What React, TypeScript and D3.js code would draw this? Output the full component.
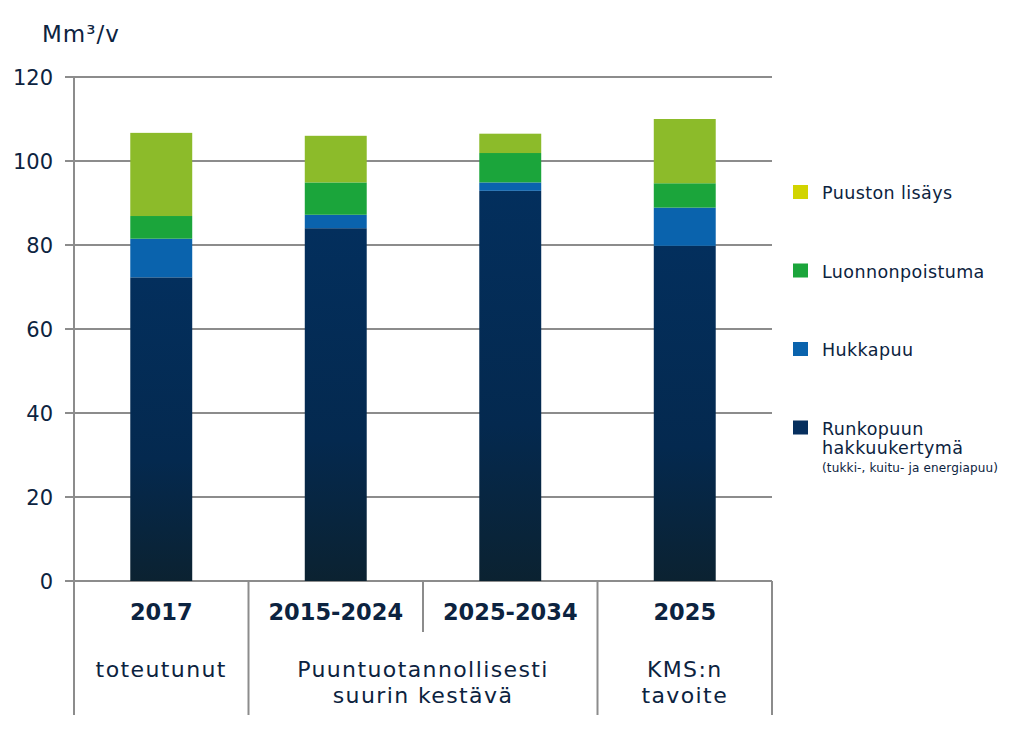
import React from "react";
import * as d3 from "d3";

const categories = ["2017", "2015-2024", "2025-2034", "2025"];
const runkopuu = [72.3, 84.0, 92.9, 79.8];
const hukkapuu = [9.2, 3.2, 2.0, 9.1];
const luonnonpoistuma = [5.4, 7.7, 7.0, 5.8];
const puustonLisays = [19.8, 11.1, 4.6, 15.3];
const yTicks = [0, 20, 40, 60, 80, 100, 120];
const seriesKeys = ["runko", "hukka", "luonto", "lisays"];
const seriesColors = ["url(#navyGrad)", "#0a63ad", "#1ba53b", "#8cbb2a"];
const legendItems = [
  { label: ["Puuston lisäys"], color: "#d2d400" },
  { label: ["Luonnonpoistuma"], color: "#1ba53b" },
  { label: ["Hukkapuu"], color: "#0a63ad" },
  { label: ["Runkopuun", "hakkuukertymä"], sub: "(tukki-, kuitu- ja energiapuu)", color: "#062f5e" },
];

const W = 1024, H = 731;
const font = "'DejaVu Sans', sans-serif";
const textColor = "#0c2340";
const grid = "#8c8c8c";

export default function App() {
  const rows = categories.map((c, i) => ({
    cat: c, runko: runkopuu[i], hukka: hukkapuu[i], luonto: luonnonpoistuma[i], lisays: puustonLisays[i],
  }));
  const stack = d3.stack<any>().keys(seriesKeys)(rows);
  const x = d3.scaleBand().domain(categories).range([74, 772]).padding(0);
  const y = d3.scaleLinear().domain([0, 120]).range([581, 77]);
  const barW = x.bandwidth() * 0.355;
  const cx = (c: string) => (x(c) as number) + x.bandwidth() / 2;
  const sub = { fontFamily: font, fontSize: 22, fill: textColor, letterSpacing: 1.4, textAnchor: "middle" as const };

  return (
    <svg width={W} height={H} style={{ position: "absolute", left: 0, top: 0, background: "#fff" }}>
      <defs>
        <linearGradient id="navyGrad" x1="0" y1="0" x2="0" y2="1" gradientUnits="objectBoundingBox">
          <stop offset="0" stopColor="#032f5d" />
          <stop offset="0.6" stopColor="#04294f" />
          <stop offset="1" stopColor="#0b2231" />
        </linearGradient>
      </defs>
      <rect width={W} height={H} fill="#fff" />
      <text x={42} y={42} fontFamily={font} fontSize={23} fill={textColor} letterSpacing={1}>
        Mm³/v
      </text>
      {yTicks.map((t) => (
        <g key={t}>
          <line x1={65} x2={772} y1={y(t)} y2={y(t)} stroke={grid} strokeWidth={2} />
          <text x={53} y={y(t)} dy="0.36em" textAnchor="end" fontFamily={font} fontSize={21} fill={textColor}>
            {t}
          </text>
        </g>
      ))}
      <line x1={74} x2={74} y1={77} y2={715} stroke={grid} strokeWidth={2} />
      {stack.map((s, si) => (
        <g key={s.key}>
          {s.map((d, i) => (
            <rect
              key={i}
              x={cx(categories[i]) - barW / 2}
              y={y(d[1])}
              width={barW}
              height={y(d[0]) - y(d[1])}
              fill={seriesColors[si]}
            />
          ))}
        </g>
      ))}
      {/* bottom table */}
      {categories.map((c, i) => (
        <line key={"v" + i} x1={(x(c) as number) + x.bandwidth()} x2={(x(c) as number) + x.bandwidth()}
          y1={581} y2={i === 1 ? 632 : 715} stroke={grid} strokeWidth={2} />
      ))}
      {categories.map((c) => (
        <text key={"c" + c} x={cx(c)} y={620} textAnchor="middle"
          fontFamily={font} fontWeight={700} fontSize={22.5} fill={textColor}>
          {c}
        </text>
      ))}
      <text x={cx("2017")} y={677} {...sub}>toteutunut</text>
      <text x={x("2025-2034")!} y={677} {...sub}>Puuntuotannollisesti</text>
      <text x={x("2025-2034")!} y={703} {...sub}>suurin kestävä</text>
      <text x={cx("2025")} y={677} {...sub}>KMS:n</text>
      <text x={cx("2025")} y={703} {...sub}>tavoite</text>
      {/* legend */}
      {legendItems.map((it, i) => {
        const top = 185 + i * 78.5;
        return (
          <g key={i}>
            <rect x={793} y={top} width={15} height={14} fill={it.color} />
            {it.label.map((l, li) => (
              <text key={li} x={822} y={top + 14 + li * 19} fontFamily={font} fontSize={17.5} letterSpacing={0.4} fill={textColor}>{l}</text>
            ))}
            {it.sub && (
              <text x={822} y={top + 51} fontFamily={font} fontSize={12} letterSpacing={0.15} fill={textColor}>{it.sub}</text>
            )}
          </g>
        );
      })}
    </svg>
  );
}
